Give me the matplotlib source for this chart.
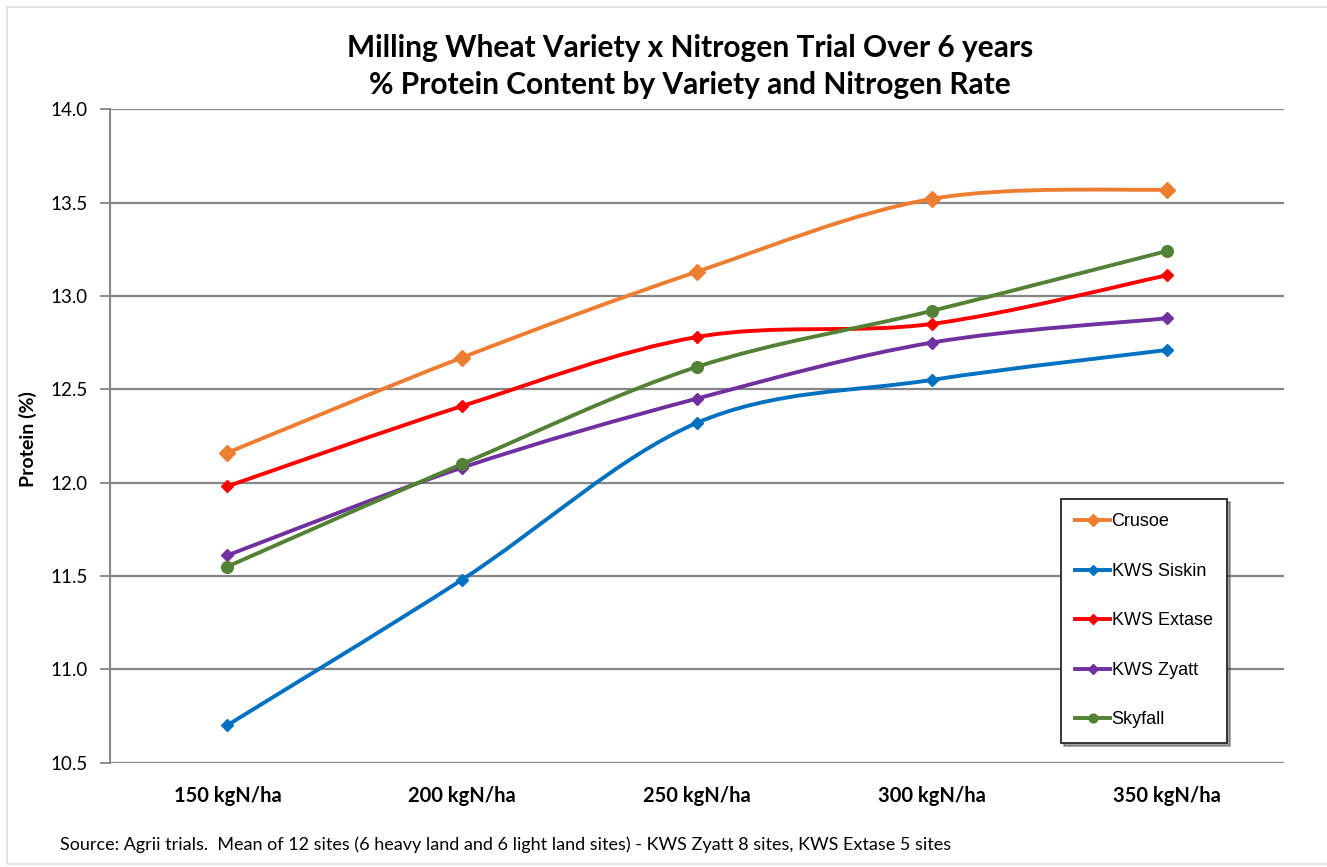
import matplotlib
matplotlib.use("Agg")
import matplotlib.pyplot as plt
from matplotlib.path import Path
from matplotlib.patches import PathPatch, Rectangle
from matplotlib.lines import Line2D
import numpy as np

categories = ["150 kgN/ha", "200 kgN/ha", "250 kgN/ha", "300 kgN/ha", "350 kgN/ha"]
crusoe = [12.16, 12.67, 13.13, 13.52, 13.57]
kws_siskin = [10.70, 11.48, 12.32, 12.55, 12.71]
kws_extase = [11.98, 12.41, 12.78, 12.85, 13.11]
kws_zyatt = [11.61, 12.08, 12.45, 12.75, 12.88]
skyfall = [11.55, 12.10, 12.62, 12.92, 13.24]
series_names = ["Crusoe", "KWS Siskin", "KWS Extase", "KWS Zyatt", "Skyfall"]

series = [crusoe, kws_siskin, kws_extase, kws_zyatt, skyfall]
colors = ["#ED7D31", "#0070C0", "#FF0000", "#7030A0", "#538135"]
markers = ["D", "D", "D", "D", "o"]
msizes = [8.0, 6.6, 6.6, 6.6, 8.4]

W, H = 1327, 867
fig = plt.figure(figsize=(W / 100, H / 100), dpi=100)
fig.patch.set_facecolor("white")

# outer border
fig.patches.append(Rectangle((7 / W, 1 - 864 / H), (W + 5 - 7) / W, (864 - 7) / H,
                             transform=fig.transFigure, fill=False,
                             edgecolor="#DDDDDD", linewidth=1.2))

ax = fig.add_axes([110 / W, 1 - 762.5 / H, (1284 - 110) / W, (762.5 - 109.3) / H])
ax.set_xlim(-0.5, 4.5)
ax.set_ylim(10.5, 14.0)
yt = np.arange(10.5, 14.01, 0.5)
ax.set_yticks(yt)
ax.set_yticklabels([f"{v:.1f}" for v in yt], fontfamily="Lato", fontsize=13.5)
ax.set_xticks(range(len(categories)))
ax.set_xticklabels(categories, fontfamily="Lato", fontweight="bold", fontsize=14.5)
ax.tick_params(axis="x", length=0, pad=17)
ax.tick_params(axis="y", length=7, width=1.3, color="#868686", pad=9)
for s in ["top", "right", "bottom"]:
    ax.spines[s].set_visible(False)
ax.spines["left"].set_color("#868686")
ax.spines["left"].set_linewidth(1.5)
ax.grid(axis="y", color="#868686", linewidth=1.6)
ax.set_axisbelow(True)

x = np.arange(len(categories), dtype=float)


def smooth_path(xs, ys):
    pts = np.column_stack([xs, ys])
    n = len(pts)
    verts = [pts[0]]
    codes = [Path.MOVETO]
    for i in range(n - 1):
        p0 = pts[i - 1] if i > 0 else pts[i]
        p1 = pts[i]
        p2 = pts[i + 1]
        p3 = pts[i + 2] if i + 2 < n else pts[i + 1]
        c1 = p1 + (p2 - p0) / 6.0
        c2 = p2 - (p3 - p1) / 6.0
        verts += [c1, c2, p2]
        codes += [Path.CURVE4] * 3
    return Path(np.array(verts), codes)


handles = []
for name, ys, c, m, ms in zip(series_names, series, colors, markers, msizes):
    patch = PathPatch(smooth_path(x, ys), fill=False, edgecolor=c, linewidth=2.8,
                      capstyle="round", joinstyle="round", zorder=3)
    ax.add_patch(patch)
    ax.plot(x, ys, linestyle="none", marker=m, markersize=ms, color=c,
            markeredgecolor=c, zorder=4)
    handles.append(Line2D([], [], color=c, linewidth=2.8, marker=m,
                          markersize=ms * 0.75))

leg = ax.legend(handles, series_names, loc="upper left",
                bbox_to_anchor=(1061 / W, 1 - 499 / H), bbox_transform=fig.transFigure,
                prop={"family": "Liberation Sans", "size": 13},
                frameon=True, fancybox=False, shadow=True, labelspacing=1.8,
                handlelength=1.9, handletextpad=0.1, borderpad=0.8,
                borderaxespad=0, framealpha=1)
leg.get_frame().set_edgecolor("#262626")
leg.get_frame().set_linewidth(1.3)

fig.text(0.52, 1 - 48 / H, "Milling Wheat Variety x Nitrogen Trial Over 6 years",
         ha="center", va="center", fontfamily="Lato", fontweight="bold", fontsize=21.5)
fig.text(0.52, 1 - 85 / H, "% Protein Content by Variety and Nitrogen Rate",
         ha="center", va="center", fontfamily="Lato", fontweight="bold", fontsize=21.5)
fig.text(28 / W, 1 - 439 / H, "Protein (%)", rotation=90, ha="center", va="center",
         fontfamily="Lato", fontweight="bold", fontsize=14)
fig.text(60 / W, 1 - 845 / H,
         "Source: Agrii trials.  Mean of 12 sites (6 heavy land and 6 light land sites) - KWS Zyatt 8 sites, KWS Extase 5 sites",
         ha="left", va="center", fontfamily="Lato", fontsize=13)

fig.savefig("out.png", dpi=100, facecolor="white")
